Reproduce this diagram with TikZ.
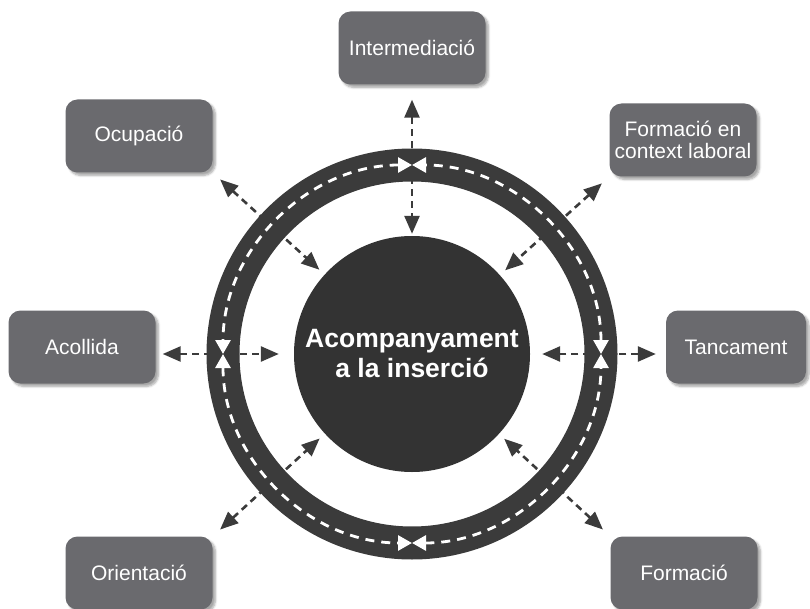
\documentclass[tikz,border=0pt]{standalone}
\usepackage{fontspec}
\setmainfont{Liberation Sans}
\usetikzlibrary{arrows.meta,shadows.blur,calc}
\definecolor{boxgray}{HTML}{6A6A6E}
\definecolor{ringdark}{HTML}{3B3B3B}
\definecolor{coredark}{HTML}{333333}
\begin{document}
\begin{tikzpicture}[x=1pt,y=-1pt,
  box/.style={rounded corners=12pt, fill=boxgray, text=white, minimum width=147pt,
    minimum height=73pt, align=center, inner sep=0pt,
    font=\fontsize{21}{22}\selectfont,
    blur shadow={shadow xshift=3pt, shadow yshift=-3pt, shadow blur steps=6, shadow opacity=35}},
  conn/.style={draw=ringdark, line width=2.6pt, dash pattern=on 7pt off 5pt,
    {Triangle[length=18pt,width=15pt]}-{Triangle[length=18pt,width=15pt]}},
  ringarrow/.style={draw=white, line width=2.8pt, dash pattern=on 9pt off 7pt,
    {Triangle[length=14pt,width=15pt]}-{Triangle[length=14pt,width=15pt]}},
  core/.style={circle, fill=coredark, minimum size=236pt, inner sep=0pt, text=white,
    align=center, font=\fontsize{26.5}{30}\selectfont\bfseries}
]
\useasboundingbox (0,0) rectangle (810,609);

% centre
\node[core] (cen) at (412,354) {Acompanyament\\a la inserció};

% boxes
\node[box] (inter) at (412,48) {Intermediació};
\node[box] (ocup) at (139,136) {Ocupació};
\node[box] (fctx) at (683,140) {Formació en\\context laboral};
\node[box] (acol) at (82,347) {Acollida};
\node[box, minimum width=140pt] (tanc) at (736,347) {Tancament};
\node[box] (orie) at (139,573) {Orientació};
\node[box] (form) at (684,573) {Formació};

% connectors
\draw[conn, shorten <=15pt, shorten >=2pt] (inter) -- (cen);
\draw[conn, shorten <=10pt, shorten >=7pt] (ocup.south east) -- (cen);
\draw[conn, shorten <=10pt, shorten >=7pt] (fctx.south west) -- (cen);
\draw[conn, shorten <=10pt, shorten >=7pt] (orie.north east) -- (cen);
\draw[conn, shorten <=10pt, shorten >=7pt] (form.north west) -- (cen);
\draw[conn, shorten <=7pt, shorten >=15pt] (cen.west -| acol.east) -- (cen.west);
\draw[conn, shorten <=10pt, shorten >=12pt] (cen.east -| tanc.west) -- (cen.east);

% ring
\draw[ringdark, line width=33pt] (cen.center) circle[radius=189pt];
\coordinate (pR) at ($(cen.center)+(189,0)$);
\coordinate (pL) at ($(cen.center)+(-189,0)$);
\coordinate (pT) at ($(cen.center)+(0,-189)$);
\coordinate (pB) at ($(cen.center)+(0,189)$);
\draw[ringarrow] (pR) arc[start angle=0, end angle=90, radius=189pt];
\draw[ringarrow] (pT) arc[start angle=90, end angle=180, radius=189pt];
\draw[ringarrow] (pL) arc[start angle=180, end angle=270, radius=189pt];
\draw[ringarrow] (pB) arc[start angle=270, end angle=360, radius=189pt];
\end{tikzpicture}
\end{document}
